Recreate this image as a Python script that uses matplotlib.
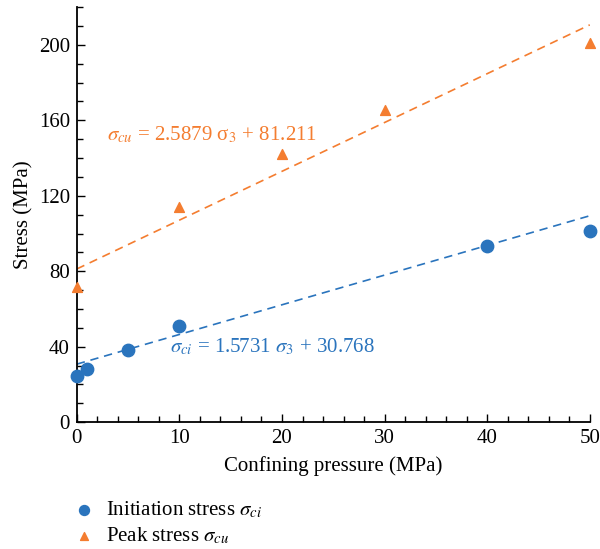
import matplotlib
matplotlib.use("Agg")
import matplotlib.pyplot as plt
import numpy as np
from matplotlib.ticker import MultipleLocator

# Data
conf_ci = [0, 1, 5, 10, 40, 50]
stress_ci = [24.3, 28.0, 38.2, 50.8, 93.6, 101.2]
conf_cu = [0, 10, 20, 30, 50]
stress_cu = [71.4, 113.8, 142.3, 165.6, 200.8]
fit_ci = (1.5731, 30.768)
fit_cu = (2.5879, 81.211)
xticks = [0, 10, 20, 30, 40, 50]
yticks = [0, 40, 80, 120, 160, 200]

blue = '#2a74bd'
orange = '#f47d30'

plt.rcParams['font.family'] = ['Liberation Serif', 'DejaVu Serif']
plt.rcParams['mathtext.fontset'] = 'stix'

fig = plt.figure(figsize=(6.0, 5.49), dpi=100)
ax = fig.add_axes([0.128, 0.231, 0.855, 0.756])

xf = np.array([0, 50])
ax.plot(xf, fit_cu[0] * xf + fit_cu[1], ls=(0, (5, 3.5)), color=orange, lw=1.2)
ax.plot(xf, fit_ci[0] * xf + fit_ci[1], ls=(0, (5, 3.5)), color=blue, lw=1.2)
h1 = ax.scatter(conf_ci, stress_ci, s=80, color=blue, marker='o', zorder=3, clip_on=False,
                label=r'Initiation stress $\sigma_{ci}$')
h2 = ax.scatter(conf_cu, stress_cu, s=50, color=orange, marker='^', zorder=3, clip_on=False,
                label=r'Peak stress $\sigma_{cu}$')

ax.text(2.9, 152, r'$\sigma_{cu}$ = 2.5879 σ$_3$ + 81.211', color=orange, fontsize=15, va='center')
ax.text(9.1, 40, r'$\sigma_{ci}$ = 1.5731 $\sigma_3$ + 30.768', color=blue, fontsize=15, va='center')

ax.set_xlim(0, 50)
ax.set_ylim(0, 220)
ax.set_xticks(xticks)
ax.set_yticks(yticks)
ax.xaxis.set_minor_locator(MultipleLocator(2))
ax.yaxis.set_minor_locator(MultipleLocator(10))
ax.tick_params(which='both', direction='in', labelsize=15, width=1)
ax.tick_params(which='major', length=6, pad=5)
ax.tick_params(which='minor', length=4)
ax.spines['top'].set_visible(False)
ax.spines['right'].set_visible(False)
ax.spines['left'].set_linewidth(1.3)
ax.spines['bottom'].set_linewidth(1.3)
ax.set_xlabel('Confining pressure (MPa)', fontsize=15, labelpad=6)
ax.set_ylabel('Stress (MPa)', fontsize=15, labelpad=4)

fig.legend(handles=[h1, h2], loc='upper left', bbox_to_anchor=(0.092, 0.105),
           frameon=False, fontsize=15, handletextpad=0.05, labelspacing=0.25,
           borderaxespad=0, markerscale=0.8)

fig.savefig('out.png', dpi=100)
